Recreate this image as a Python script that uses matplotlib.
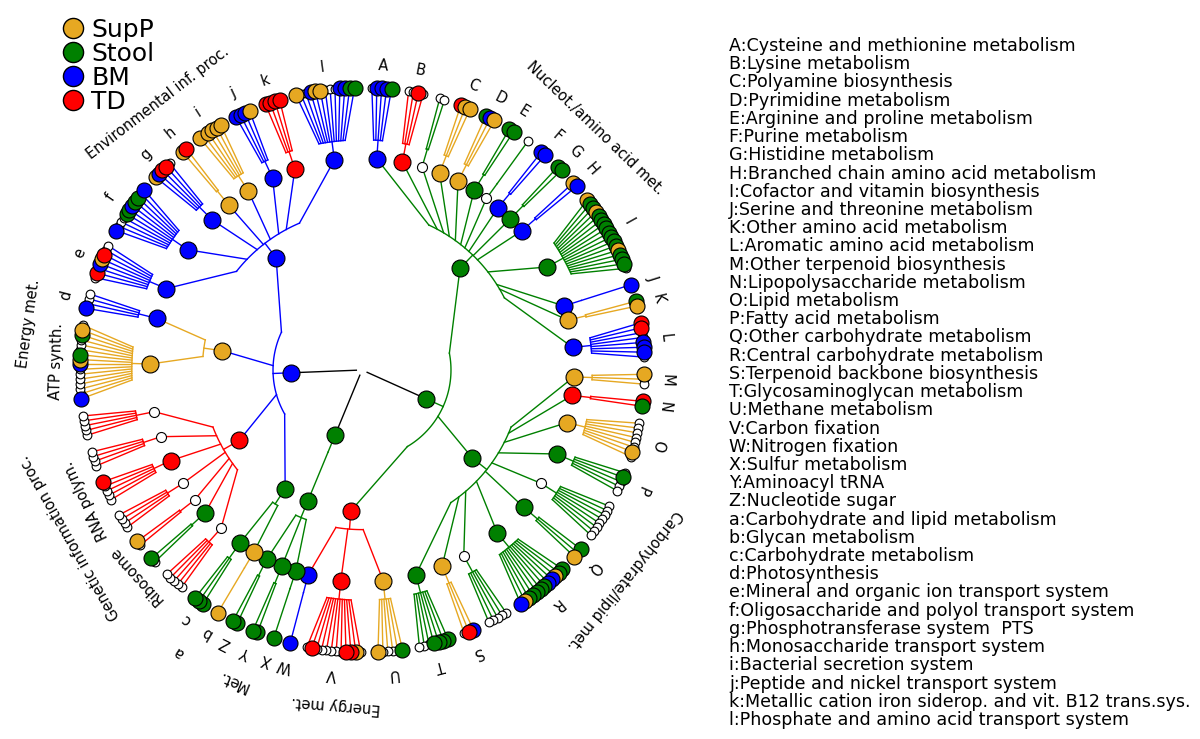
import numpy as np
import matplotlib
matplotlib.use("Agg")
import matplotlib.pyplot as plt
from matplotlib.lines import Line2D

COLORS = {"o": "#E6A822", "g": "#008000", "b": "#0000FF", "r": "#FF0000",
          "w": "white", "k": "black"}

LEGEND_NAMES = ["SupP", "Stool", "BM", "TD"]
LEGEND_CODES = ["o", "g", "b", "r"]

# level-3 clades: (letter, node colour, leaf colours in clockwise order)
AMINO = [("A", "b", "wbbbg"), ("B", "r", "wwrw"), ("", "w", "ww"),
         ("C", "o", "roo"), ("D", "o", "gbo"), ("E", "g", "gg"),
         ("", "w", "w"), ("F", "b", "bb"), ("G", "g", "gg"), ("H", "b", "ob"),
         ("I", "g", "oggoggggggggogggw"), ("J", "b", "b"), ("K", "o", "go"),
         ("L", "b", "rrwwbbbw")]
CARB = [("M", "o", "oww"), ("N", "r", "rg"), ("O", "o", "wwwwwwow"),
        ("P", "g", "wgwww"), ("", "w", "wwwwwwww"), ("Q", "g", "gwo"),
        ("R", "g", "ggobbgggggob"), ("", "w", "wwwww"), ("S", "o", "brw"),
        ("T", "g", "ggggwww")]
ENERGY_B = [("U", "o", "gwwwwo"), ("V", "r", "worrwwwwwwrw"), ("W", "b", "b")]
MET = [("X", "g", "g"), ("Y", "g", "gg"), ("Z", "g", "gg")]
CARB_LIPID = [("b", "o", "o"), ("c", "g", "ggg")]
GENETIC = [("", "w", "wwwww"), ("Ribosome", "g", "wg"), ("", "w", "wo"),
           ("", "w", "wwww"), ("RNA polym.", "r", "wwwwr"), ("", "w", "wwww"),
           ("", "w", "wwwww")]
ENERGY_L = [("ATP synth.", "o", "bwwwwwwbogwwwgow"), ("d", "b", "bwww")]
ENVIRON = [("e", "b", "wrwborww"), ("f", "b", "bwwwggbggwb"), ("g", "b", "obrrw"),
           ("h", "o", "or"), ("i", "o", "owoooo"), ("j", "b", "bbbo"),
           ("k", "r", "rrrr"), ("l", "b", "owwboowwwbbgg")]

# level-2 clades: (name, node colour, members)
LEVEL2 = [("Nucleot./amino acid met.", "g", AMINO),
          ("Carbohydrate/lipid met.", "g", CARB),
          ("Energy met.", "r", ENERGY_B),
          ("Met.", "g", MET),
          ("a", "g", CARB_LIPID),
          ("Genetic information proc.", "r", GENETIC),
          ("Energy met.", "o", ENERGY_L),
          ("Environmental inf. proc.", "b", ENVIRON)]
# level-1 clades: (node colour, indices into LEVEL2)
LEVEL1 = [("g", [0, 1, 2]), ("g", [3]), ("b", [4, 5, 6, 7])]

KEY = ["A:Cysteine and methionine metabolism", "B:Lysine metabolism",
       "C:Polyamine biosynthesis", "D:Pyrimidine metabolism",
       "E:Arginine and proline metabolism", "F:Purine metabolism",
       "G:Histidine metabolism", "H:Branched chain amino acid metabolism",
       "I:Cofactor and vitamin biosynthesis", "J:Serine and threonine metabolism",
       "K:Other amino acid metabolism", "L:Aromatic amino acid metabolism",
       "M:Other terpenoid biosynthesis", "N:Lipopolysaccharide metabolism",
       "O:Lipid metabolism", "P:Fatty acid metabolism",
       "Q:Other carbohydrate metabolism", "R:Central carbohydrate metabolism",
       "S:Terpenoid backbone biosynthesis", "T:Glycosaminoglycan metabolism",
       "U:Methane metabolism", "V:Carbon fixation", "W:Nitrogen fixation",
       "X:Sulfur metabolism", "Y:Aminoacyl tRNA", "Z:Nucleotide sugar",
       "a:Carbohydrate and lipid metabolism", "b:Glycan metabolism",
       "c:Carbohydrate metabolism", "d:Photosynthesis",
       "e:Mineral and organic ion transport system",
       "f:Oligosaccharide and polyol transport system",
       "g:Phosphotransferase system  PTS", "h:Monosaccharide transport system",
       "i:Bacterial secretion system", "j:Peptide and nickel transport system",
       "k:Metallic cation iron siderop. and vit. B12 trans.sys.",
       "l:Phosphate and amino acid transport system"]

RADII = [0.0, 0.25, 0.5, 0.75, 1.0]
SQUEEZE = [1.0, 0.5, 0.48, 0.55]
BAR_OFFSET = 0.065
GAP = 2.5
START = 2.0
LW = 1.0


def build_tree():
    root = {"c": "k", "label": "", "children": []}
    for code1, members in LEVEL1:
        n1 = {"c": code1, "label": "", "children": []}
        for idx in members:
            name, code2, clades = LEVEL2[idx]
            n2 = {"c": code2, "label": name, "children": []}
            for lab, code3, leaves in clades:
                n3 = {"c": code3, "label": lab,
                      "children": [{"c": x, "label": "", "children": []} for x in leaves]}
                n2["children"].append(n3)
            n1["children"].append(n2)
        root["children"].append(n1)
    return root


def place(node, depth, state):
    node["depth"] = depth
    node["r"] = RADII[depth]
    if not node["children"]:
        node["p"] = state["pos"]
        state["pos"] += 1
        return
    if depth == 3:
        if state["clusters"]:
            state["pos"] += GAP
        state["clusters"] += 1
    for ch in node["children"]:
        place(ch, depth + 1, state)


def set_angles(node, unit):
    if not node["children"]:
        node["t"] = START + node["p"] * unit
        return
    for ch in node["children"]:
        set_angles(ch, unit)
    ts = [ch["t"] for ch in node["children"]]
    node["t"] = (min(ts) + max(ts)) / 2


def walk(node):
    yield node
    for ch in node["children"]:
        yield from walk(ch)


root = build_tree()
state = {"pos": 0, "clusters": 0}
place(root, 0, state)
set_angles(root, 360.0 / (state["pos"] + GAP))

fig = plt.figure(figsize=(12, 7.39), dpi=100)
RMAX = 1.3
half = 282.5 * RMAX
ax = fig.add_axes([(362 - half) / 1200, (369 - half) / 739, 2 * half / 1200, 2 * half / 739],
                  projection="polar")
ax.set_theta_zero_location("N")
ax.set_theta_direction(-1)
ax.set_ylim(0, RMAX)
ax.set_axis_off()

rad = np.deg2rad


def draw_edges(node, ink):
    if node["c"] != "w":
        ink = node["c"]
    kids = node["children"]
    if not kids:
        return
    col = COLORS[ink]
    if node["depth"] == 0:
        for ch in kids:
            ax.plot([rad(ch["t"])] * 2, [0.02, ch["r"]], color=col, lw=LW, zorder=1)
    else:
        rb = node["r"] + BAR_OFFSET
        k = SQUEEZE[node["depth"]]
        phis = [node["t"] + k * (ch["t"] - node["t"]) for ch in kids]
        arc = np.linspace(min(phis), max(phis), 40)
        ax.plot(rad(arc), np.full(arc.size, rb), color=col, lw=LW, zorder=1)
        ax.plot([rad(node["t"])] * 2, [node["r"], rb], color=col, lw=LW, zorder=1)
        for ph, ch in zip(phis, kids):
            ax.plot([rad(ph), rad(ch["t"])], [rb, ch["r"]], color=col, lw=LW, zorder=1)
    for ch in kids:
        draw_edges(ch, ink)


draw_edges(root, "k")

nodes = [n for n in walk(root) if n["depth"] > 0]
for n in nodes:
    leaf = not n["children"]
    white = n["c"] == "w"
    if leaf:
        size = 6.3 if white else 10.8
    else:
        size = 7.2 if white else 12.2
    z = 3 if white else (4 if leaf else 5)
    ax.scatter([rad(n["t"])], [n["r"]], s=size ** 2, color=COLORS[n["c"]],
               edgecolors="black", linewidths=0.8, zorder=z, clip_on=False)

for n in nodes:
    if not n["label"]:
        continue
    r_txt = 1.08 if n["depth"] == 3 else 1.19
    ax.text(rad(n["t"]), r_txt, n["label"], rotation=-n["t"], rotation_mode="anchor",
            ha="center", va="center", fontsize=10.5, clip_on=False)

handles = [Line2D([], [], ls="", marker="o", ms=14.5, mfc=COLORS[c], mec="black", mew=1.0)
           for c in LEGEND_CODES]
fig.legend(handles, LEGEND_NAMES, loc="upper left", bbox_to_anchor=(0.05, 0.976),
           frameon=False, fontsize=18, handlelength=1.0, handletextpad=0.25,
           labelspacing=0.0, borderpad=0, borderaxespad=0)

y0, y1 = 46, 720
for i, s in enumerate(KEY):
    y = y0 + (y1 - y0) * i / (len(KEY) - 1)
    fig.text(729 / 1200, 1 - y / 739, s, fontsize=12.6, ha="left", va="center")

fig.savefig("out.png", dpi=100)
